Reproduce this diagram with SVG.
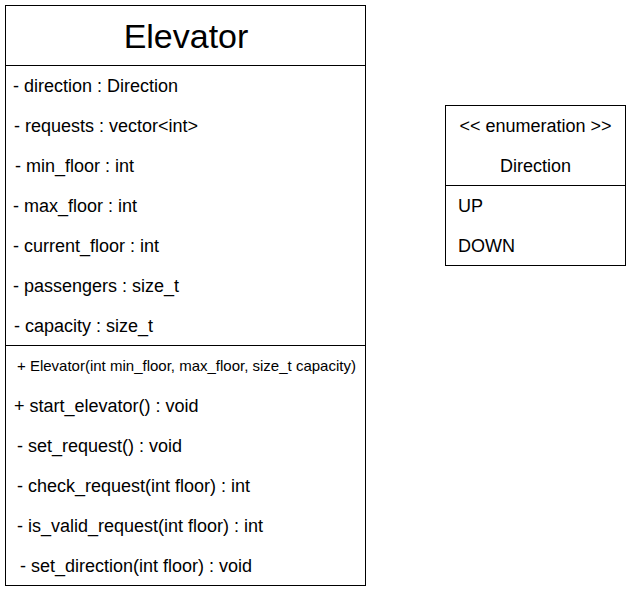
<svg xmlns="http://www.w3.org/2000/svg" width="631" height="591" viewBox="0 0 631 591">
<style>
.box{fill:#fff;stroke:#000;stroke-width:1}
.ln{stroke:#000;stroke-width:1}
text{font-family:"Liberation Sans",Arial,sans-serif;fill:#000;font-size:18px}
.title{font-size:34px;text-anchor:middle}
.small{font-size:15px}
.c{text-anchor:middle}
</style>
<rect width="631" height="591" fill="#fff"/>
<g id="elevator">
<rect class="box" x="5.5" y="5.5" width="360" height="580"/>
<line class="ln" x1="5.5" y1="65.5" x2="365.5" y2="65.5"/>
<line class="ln" x1="5.5" y1="345.5" x2="365.5" y2="345.5"/>
<text class="title" x="186" y="48">Elevator</text>
<text x="13" y="92">- direction : Direction</text>
<text x="14" y="132">- requests : vector&lt;int&gt;</text>
<text x="15" y="172">- min_floor : int</text>
<text x="13" y="212">- max_floor : int</text>
<text x="13" y="252">- current_floor : int</text>
<text x="13" y="292">- passengers : size_t</text>
<text x="14" y="332">- capacity : size_t</text>
<text class="small" x="17" y="371">+ Elevator(int min_floor, max_floor, size_t capacity)</text>
<text x="14" y="412">+ start_elevator() : void</text>
<text x="17" y="452">- set_request() : void</text>
<text x="17" y="492">- check_request(int floor) : int</text>
<text x="17" y="532">- is_valid_request(int floor) : int</text>
<text x="20" y="572">- set_direction(int floor) : void</text>
</g>
<g id="direction">
<rect class="box" x="445.5" y="105.5" width="180" height="160"/>
<line class="ln" x1="445.5" y1="185.5" x2="625.5" y2="185.5"/>
<text class="c" x="535.5" y="132">&lt;&lt; enumeration &gt;&gt;</text>
<text class="c" x="535.5" y="172">Direction</text>
<text x="458" y="212">UP</text>
<text x="458" y="252">DOWN</text>
</g>
<g id="connectors"></g>
</svg>
